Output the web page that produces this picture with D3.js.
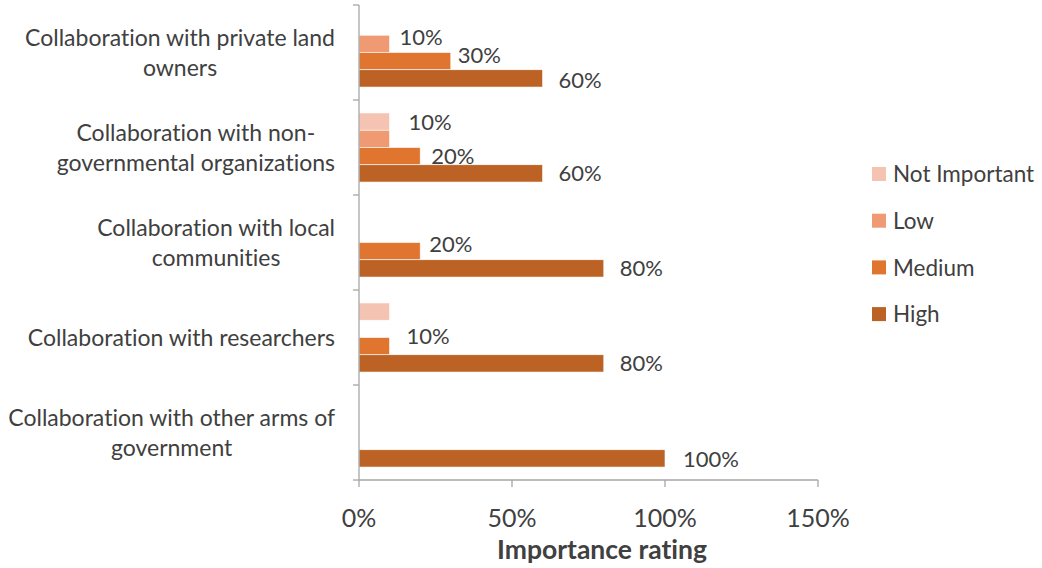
<!DOCTYPE html>
<html>
<head>
<meta charset="utf-8">
<script src="https://cdn.jsdelivr.net/npm/d3@7"></script>
<style>
  body { margin: 0; background: #fff; }
  text { font-family: Lato, "Liberation Sans", sans-serif; fill: #404040; font-variant-ligatures: none; }
</style>
</head>
<body>
<svg id="chart" width="1042" height="568"></svg>
<script>
// Share of respondents rating each type of collaboration, by importance level
const categories = [
  "Collaboration with private land owners",
  "Collaboration with non-governmental organizations",
  "Collaboration with local communities",
  "Collaboration with researchers",
  "Collaboration with other arms of government"
];
const seriesNames = ["Not Important", "Low", "Medium", "High"];
const notImportant = [0, 10, 0, 10, 0];
const low = [10, 10, 0, 0, 0];
const medium = [30, 20, 20, 10, 0];
const high = [60, 60, 80, 80, 100];
const xTicks = [0, 50, 100, 150];
const axisTitle = "Importance rating";

const seriesValues = [notImportant, low, medium, high];
const colors = ["#F5C3B2", "#F09A73", "#E0752F", "#BB6224"];

// Labels that sit on top of a neighbour are left out
const hiddenLabels = new Set(["1|Low", "3|Not Important"]);
// Hand-placed label offsets [dx, dy] (row|series)
const labelOffsets = {
  "0|Low": [10, -7], "0|Medium": [7, -6], "0|High": [16, 2],
  "1|Not Important": [19, 0], "1|Medium": [11, 0], "1|High": [16, 0],
  "2|Medium": [9, -7], "2|High": [16, 0],
  "3|Medium": [17, -10], "3|High": [16, 0],
  "4|High": [18, 1]
};

const rows = categories.map((c, i) => ({
  category: c,
  index: i,
  values: seriesNames.map((s, j) => ({ series: s, value: seriesValues[j][i] }))
}));

const svg = d3.select("#chart");
const plot = { left: 359, right: 818, top: 5, bottom: 480 };
const axisColor = "#A6A6A6";

const x = d3.scaleLinear().domain([0, 150]).range([plot.left, plot.right]);
const y0 = d3.scaleBand().domain(categories).range([plot.top, plot.bottom])
  .paddingInner(3 / 11).paddingOuter(1.5 / 11);
const y1 = d3.scaleBand().domain(seriesNames).range([0, y0.bandwidth()]);
const color = d3.scaleOrdinal().domain(seriesNames).range(colors);

// Bars
const groups = svg.append("g").selectAll("g").data(rows).join("g")
  .attr("transform", d => `translate(0,${y0(d.category)})`);

groups.selectAll("rect").data(d => d.values.filter(v => v.value > 0)).join("rect")
  .attr("x", x(0))
  .attr("y", v => y1(v.series))
  .attr("width", v => x(v.value) - x(0))
  .attr("height", y1.bandwidth())
  .attr("fill", v => color(v.series))
  .attr("stroke", "#fff")
  .attr("stroke-width", 0.6);

// Value labels
groups.each(function (row) {
  d3.select(this).selectAll("text.val")
    .data(row.values.filter(v => v.value > 0 && !hiddenLabels.has(row.index + "|" + v.series)))
    .join("text")
    .attr("class", "val")
    .attr("x", v => x(v.value) + (labelOffsets[row.index + "|" + v.series] || [12, 0])[0])
    .attr("y", v => y1(v.series) + y1.bandwidth() / 2 + (labelOffsets[row.index + "|" + v.series] || [12, 0])[1])
    .attr("dy", "0.36em")
    .style("font-size", "22px")
    .text(v => v.value + "%");
});

// Category axis
const yAxis = svg.append("g");
yAxis.append("line")
  .attr("x1", plot.left).attr("x2", plot.left)
  .attr("y1", plot.top).attr("y2", plot.bottom)
  .attr("stroke", axisColor).attr("stroke-width", 1.3);
const bounds = d3.range(categories.length + 1).map(i => plot.top + i * y0.step());
yAxis.selectAll("line.tick").data(bounds).join("line")
  .attr("class", "tick")
  .attr("x1", plot.left - 6).attr("x2", plot.left)
  .attr("y1", d => d).attr("y2", d => d)
  .attr("stroke", axisColor).attr("stroke-width", 1.3);

// Wrapped category labels: lines centred inside a right-aligned block
const catFont = 23, lineGap = 30.5, labelRight = 335, maxWidth = 338;
const measurer = svg.append("text").style("font-size", catFont + "px").attr("visibility", "hidden");
function width(t) { measurer.text(t); return measurer.node().getComputedTextLength(); }
function wrap(label) {
  const tokens = [];
  label.split(" ").forEach(w => {
    const parts = w.split(/(?<=-)/);
    parts.forEach((p, k) => tokens.push({ t: p, joinNoSpace: k > 0 }));
  });
  const lines = [];
  let cur = "";
  tokens.forEach(tok => {
    const cand = cur === "" ? tok.t : cur + (tok.joinNoSpace ? "" : " ") + tok.t;
    if (cur !== "" && width(cand) > maxWidth) { lines.push(cur); cur = tok.t; }
    else cur = cand;
  });
  if (cur) lines.push(cur);
  return lines;
}
const catLabels = svg.append("g");
rows.forEach(row => {
  const lines = wrap(row.category);
  const blockW = d3.max(lines, width);
  const cx = labelRight - blockW / 2;
  const cy = y0(row.category) + y0.bandwidth() / 2;
  const t = catLabels.append("text")
    .attr("text-anchor", "middle")
    .style("font-size", catFont + "px");
  lines.forEach((ln, k) => {
    t.append("tspan")
      .attr("x", cx)
      .attr("y", cy + (k - (lines.length - 1) / 2) * lineGap)
      .attr("dy", "0.36em")
      .text(ln);
  });
});
measurer.remove();

// Value axis
const xAxis = svg.append("g");
xAxis.append("line")
  .attr("x1", plot.left).attr("x2", plot.right)
  .attr("y1", plot.bottom).attr("y2", plot.bottom)
  .attr("stroke", axisColor).attr("stroke-width", 1.3);
xAxis.selectAll("line.tick").data(xTicks).join("line")
  .attr("class", "tick")
  .attr("x1", d => x(d)).attr("x2", d => x(d))
  .attr("y1", plot.bottom).attr("y2", plot.bottom + 7)
  .attr("stroke", axisColor).attr("stroke-width", 1.3);
xAxis.selectAll("text").data(xTicks).join("text")
  .attr("x", d => x(d))
  .attr("y", 527)
  .attr("text-anchor", "middle")
  .style("font-size", "25px")
  .text(d => d + "%");

svg.append("text")
  .attr("x", 602)
  .attr("y", 559)
  .attr("text-anchor", "middle")
  .style("font-size", "26.5px")
  .style("font-weight", "bold")
  .text(axisTitle);

// Legend
const legend = svg.append("g").selectAll("g").data(seriesNames).join("g")
  .attr("transform", (d, i) => `translate(872,${174 + i * 46.7})`);
legend.append("rect")
  .attr("x", 0).attr("y", -7).attr("width", 14).attr("height", 14)
  .attr("fill", d => color(d));
legend.append("text")
  .attr("x", 21).attr("y", 0).attr("dy", "0.36em")
  .style("font-size", "22.5px")
  .text(d => d);
</script>
</body>
</html>
